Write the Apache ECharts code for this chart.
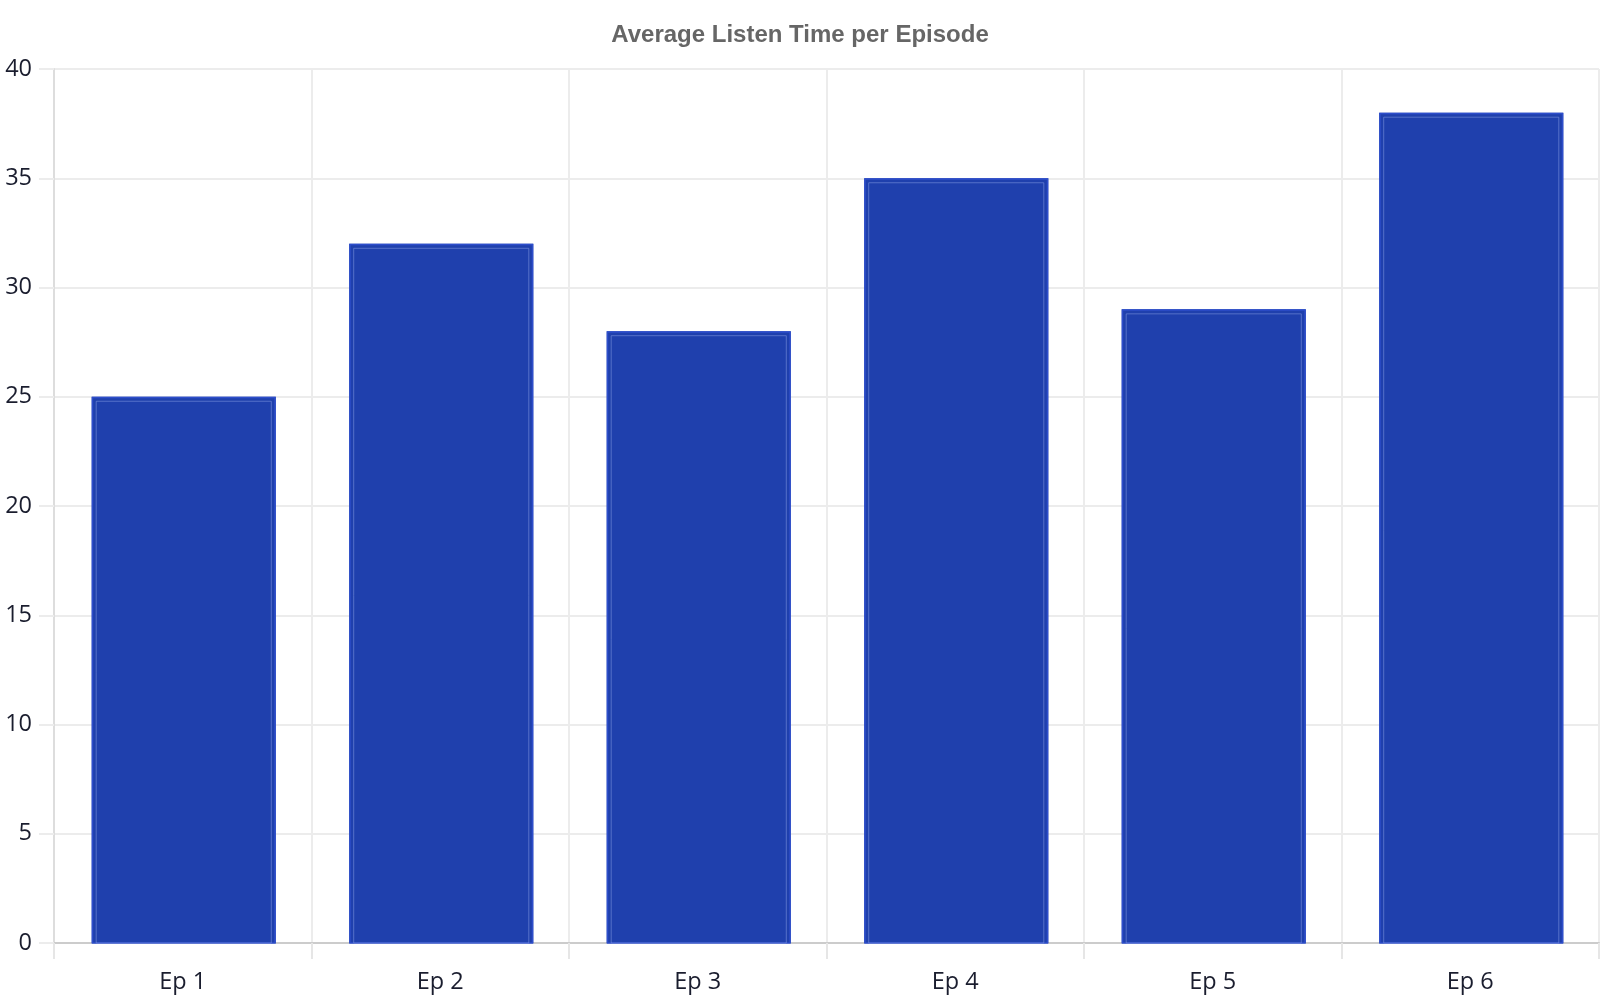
<!DOCTYPE html>
<html><head><meta charset="utf-8">
<script src="https://cdn.jsdelivr.net/npm/echarts@6/dist/echarts.min.js"></script>
<style>html,body{margin:0;padding:0;background:#fff}#c{width:1600px;height:1000px}</style>
</head><body><div id="c"></div>
<script>
const titleText = 'Average Listen Time per Episode';
const categories = ['Ep 1', 'Ep 2', 'Ep 3', 'Ep 4', 'Ep 5', 'Ep 6'];
const listenTime = [25, 32, 28, 35, 29, 38];
const yTicks = [0, 5, 10, 15, 20, 25, 30, 35, 40];

const chart = echarts.init(document.getElementById('c'));
chart.setOption({
  animation: false,
  backgroundColor: '#fff',
  title: {
    text: titleText, left: 'center', top: 18,
    textStyle: { fontFamily: 'Liberation Sans', fontWeight: 'bold', fontSize: 24, color: '#666' }
  },
  grid: { left: 54, right: 1, top: 69, bottom: 57, containLabel: false },
  xAxis: {
    type: 'category', data: categories,
    axisLine: { lineStyle: { color: '#cccccc', width: 2 } },
    axisTick: { show: true, length: 16, lineStyle: { color: '#e6e6e6', width: 2 } },
    splitLine: { show: true, lineStyle: { color: '#ececec', width: 2 } },
    axisLabel: { fontFamily: 'Open Sans', fontSize: 23.5, color: '#1a1d2e', margin: 27 }
  },
  yAxis: {
    type: 'value', min: yTicks[0], max: yTicks[yTicks.length - 1], interval: yTicks[1] - yTicks[0],
    axisLine: { show: true, lineStyle: { color: '#dddddd', width: 2 } },
    axisTick: { show: true, length: 15, lineStyle: { color: '#ececec', width: 2 } },
    splitLine: { show: true, lineStyle: { color: '#ececec', width: 2 } },
    axisLabel: { fontFamily: 'Open Sans', fontSize: 23.5, color: '#1a1d2e', margin: 22 }
  },
  series: [{
    type: 'custom',
    data: listenTime.map((v, i) => [i, v]),
    encode: { x: 0, y: 1 },
    renderItem: function (params, api) {
      const top = api.coord([api.value(0), api.value(1)]);
      const base = api.coord([api.value(0), 0]);
      const w = api.size([1, 0])[0] * 0.715;
      const x = top[0] - w / 2 + 1, y = top[1], h = base[1] - top[1];
      return {
        type: 'group',
        children: [
          { type: 'rect', shape: { x: x, y: y, width: w, height: h },
            style: { fill: '#1f40ad', stroke: null } },
          { type: 'rect', shape: { x: x + 0.75, y: y + 0.75, width: w - 1.5, height: h - 0.75 },
            style: { fill: null, stroke: '#2e4ecb', lineWidth: 1.5 } },
          { type: 'rect', shape: { x: x + 4.5, y: y + 4.5, width: w - 9, height: h - 4.5 },
            style: { fill: null, stroke: 'rgba(140,160,230,0.5)', lineWidth: 1 } }
        ]
      };
    }
  }]
});
</script></body></html>
